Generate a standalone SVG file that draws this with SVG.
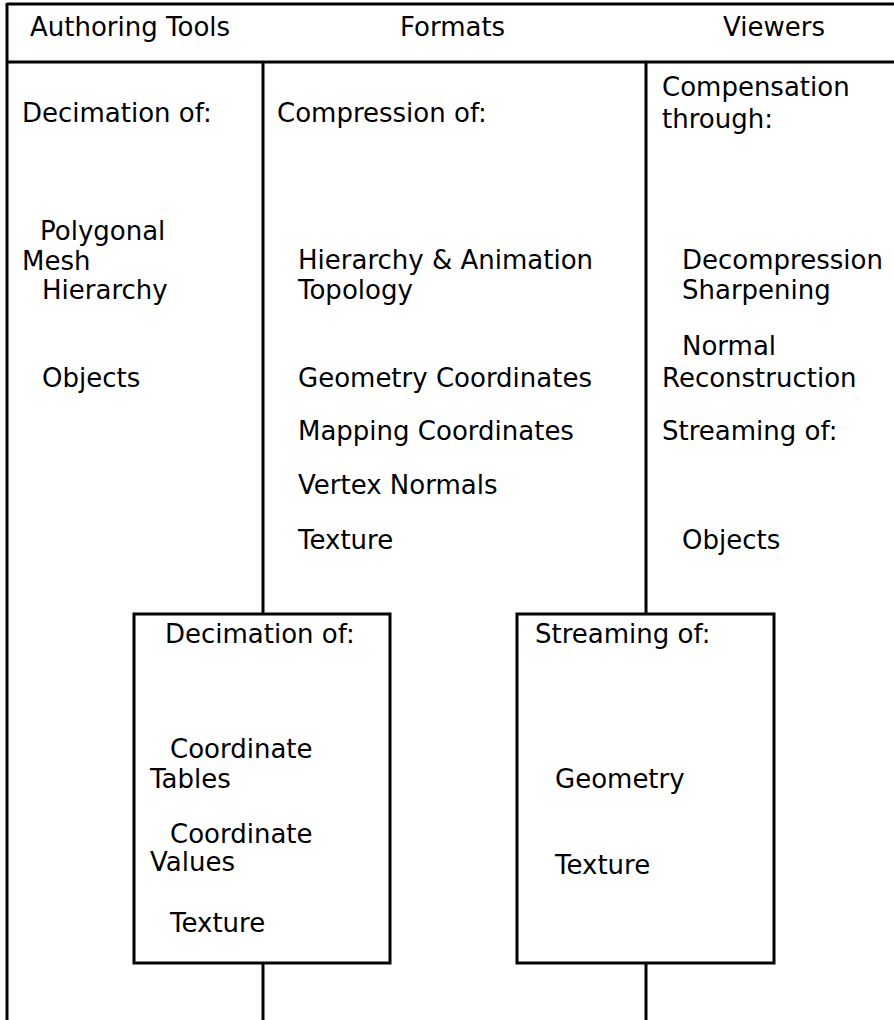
<svg xmlns="http://www.w3.org/2000/svg" width="894" height="1020" viewBox="0 0 894 1020">
<style>
text{font-family:"DejaVu Sans","Verdana",sans-serif;font-size:26px;fill:#000}
.ln{stroke:#000;stroke-width:3;fill:none}
.box{stroke:#000;stroke-width:3;fill:#fff}
</style>
<rect width="894" height="1020" fill="#fff"/>
<g id="connectors">
<line class="ln" x1="7" y1="4" x2="894" y2="4"/>
<line class="ln" x1="7" y1="62" x2="894" y2="62"/>
<line class="ln" x1="7" y1="3" x2="7" y2="1020"/>
<line class="ln" x1="263" y1="62" x2="263" y2="614"/>
<line class="ln" x1="646" y1="62" x2="646" y2="614"/>
<line class="ln" x1="263" y1="963" x2="263" y2="1020"/>
<line class="ln" x1="646" y1="963" x2="646" y2="1020"/>
</g>
<g id="header">
<text x="30" y="36">Authoring Tools</text>
<text x="400" y="36">Formats</text>
<text x="723" y="36">Viewers</text>
</g>
<g id="authoring">
<text x="22" y="122">Decimation of:</text>
<text x="40" y="240">Polygonal</text>
<text x="22" y="270">Mesh</text>
<text x="42" y="299">Hierarchy</text>
<text x="42" y="387">Objects</text>
</g>
<g id="formats">
<text x="277" y="122">Compression of:</text>
<text x="298" y="269">Hierarchy &amp; Animation</text>
<text x="298" y="299">Topology</text>
<text x="298" y="387">Geometry Coordinates</text>
<text x="298" y="440">Mapping Coordinates</text>
<text x="298" y="494">Vertex Normals</text>
<text x="298" y="549">Texture</text>
</g>
<g id="viewers">
<text x="662" y="96">Compensation</text>
<text x="662" y="128">through:</text>
<text x="682" y="269">Decompression</text>
<text x="682" y="299">Sharpening</text>
<text x="682" y="355">Normal</text>
<text x="662" y="387">Reconstruction</text>
<text x="662" y="440">Streaming of:</text>
<text x="682" y="549">Objects</text>
</g>
<g id="decimation-box">
<rect class="box" x="134" y="614" width="256" height="349"/>
<text x="165" y="643">Decimation of:</text>
<text x="170" y="758">Coordinate</text>
<text x="150" y="788">Tables</text>
<text x="170" y="843">Coordinate</text>
<text x="150" y="871">Values</text>
<text x="170" y="932">Texture</text>
</g>
<g id="streaming-box">
<rect class="box" x="517" y="614" width="257" height="349"/>
<text x="535" y="643">Streaming of:</text>
<text x="555" y="788">Geometry</text>
<text x="555" y="874">Texture</text>
</g>
</svg>
